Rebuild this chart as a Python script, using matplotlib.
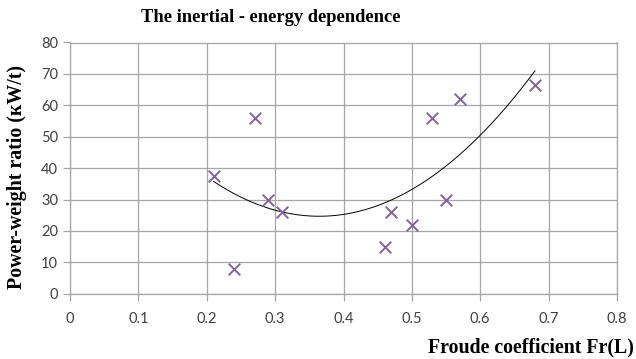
import numpy as np
import matplotlib
matplotlib.use("Agg")
import matplotlib.pyplot as plt

froude = [0.21, 0.24, 0.27, 0.29, 0.31, 0.46, 0.47, 0.50, 0.53, 0.55, 0.57, 0.68]
power_weight = [37.5, 8, 56, 30, 26, 15, 26, 22, 56, 30, 62, 66.5]
x_ticks = [0, 0.1, 0.2, 0.3, 0.4, 0.5, 0.6, 0.7, 0.8]
x_tick_labels = ["0", "0.1", "0.2", "0.3", "0.4", "0.5", "0.6", "0.7", "0.8"]
y_ticks = [0, 10, 20, 30, 40, 50, 60, 70, 80]

fig = plt.figure(figsize=(6.36, 3.59), dpi=100)
ax = fig.add_axes([70/636, 1-293.7/359, (617-70)/636, (293.7-42.5)/359])

ax.scatter(froude, power_weight, marker='x', s=70, color='#8064A2', linewidths=1.4, zorder=3)

coef = np.polyfit(froude, power_weight, 2)
xt = np.linspace(min(froude), max(froude), 200)
ax.plot(xt, np.polyval(coef, xt), color='black', lw=0.7, zorder=2)

ax.set_xlim(0, 0.8)
ax.set_ylim(0, 80)
ax.set_xticks(x_ticks)
ax.set_xticklabels(x_tick_labels)
ax.set_yticks(y_ticks)
ax.grid(True, color='#a6a6a6', lw=0.9)
ax.set_axisbelow(True)
for s in ax.spines.values():
    s.set_color('#a6a6a6')
    s.set_linewidth(0.9)
ax.tick_params(axis='both', colors='#a6a6a6', length=5, width=0.9, labelcolor='#404040', labelsize=10.5)
ax.tick_params(axis='x', pad=8)
for lab in ax.get_xticklabels() + ax.get_yticklabels():
    lab.set_family('Lato')

fig.text(271/636, 1-18/359, "The inertial - energy dependence", ha='center', va='center',
         family='Liberation Serif', weight='bold', fontsize=13.3)
fig.text(17/636, 1-177/359, "Power-weight ratio (кW/t)", rotation=90, ha='center', va='center',
         family='Liberation Serif', weight='bold', fontsize=14.3)
fig.text(634/636, 1-347/359, "Froude coefficient Fr(L)", ha='right', va='center',
         family='Liberation Serif', weight='bold', fontsize=14.3)

fig.savefig("out.png", dpi=100)
